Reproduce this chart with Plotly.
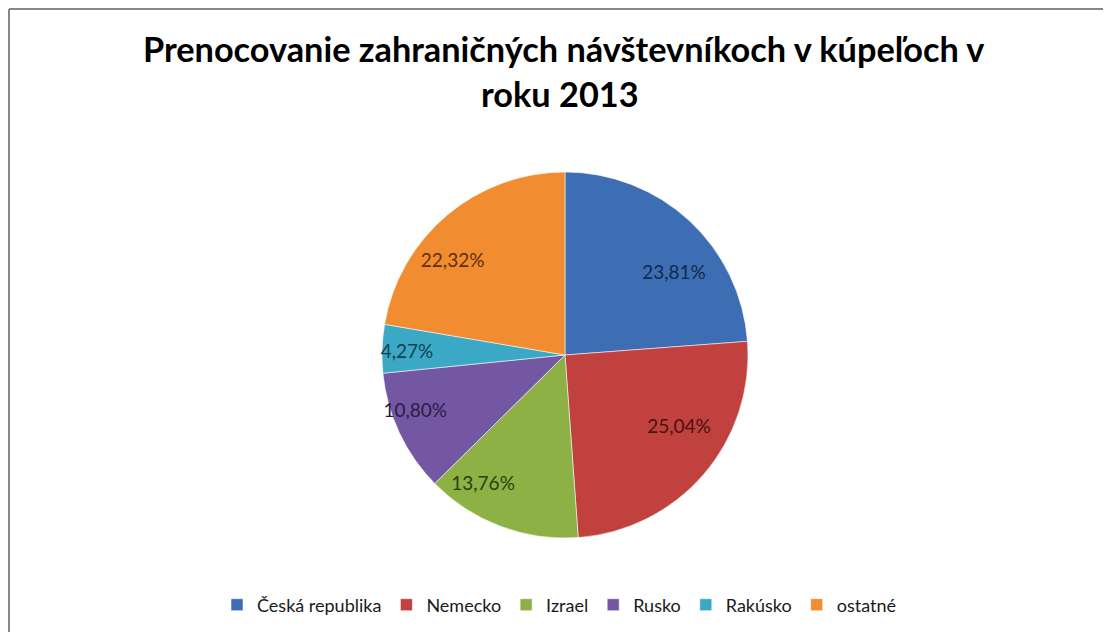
import plotly.graph_objects as go

categories = ["Česká republika", "Nemecko", "Izrael", "Rusko", "Rakúsko", "ostatné"]
shares = [23.81, 25.04, 13.76, 10.80, 4.27, 22.32]

# styling
slice_colors = ["#3d6eb3", "#c0413d", "#8db145", "#7457a3", "#3ba9c6", "#f28c30"]
text_colors = ["#14284a", "#4a1210", "#2e3d10", "#2a1c44", "#12404c", "#5a300a"]
label_pull = [0.05, 0.01, 0.26, 0.24, 0.26, 0.16]

W, H = 1111, 632
OFF = 8  # page body margin
cx, cy, R = 565 - OFF, 355 - OFF, 183
RL = 100  # radius of invisible label ring
RL_dom = RL * (1 + max(label_pull))


def dom(r):
    return dict(x=[(cx - r) / W, (cx + r) / W], y=[1 - (cy + r) / H, 1 - (cy - r) / H])


fig = go.Figure()
fig.add_trace(go.Pie(
    labels=categories,
    values=shares,
    sort=False,
    direction="clockwise",
    rotation=0,
    marker=dict(colors=slice_colors, line=dict(color="rgba(255,255,255,0.55)", width=1)),
    textinfo="none",
    hoverinfo="label+percent",
    domain=dom(R),
))
fig.add_trace(go.Pie(
    labels=categories,
    values=shares,
    sort=False,
    direction="clockwise",
    rotation=0,
    showlegend=False,
    pull=label_pull,
    marker=dict(colors=["rgba(0,0,0,0)"] * len(shares), line=dict(width=0)),
    texttemplate="%{value:.2f}%",
    textposition="outside",
    textfont=dict(family="Lato, sans-serif", size=19, color=text_colors),
    hoverinfo="skip",
    domain=dom(RL_dom),
))

fig.update_layout(
    width=W, height=H,
    margin=dict(l=0, r=0, t=0, b=0),
    paper_bgcolor="white",
    separators=", ",
    showlegend=True,
    legend=dict(
        orientation="h",
        x=(559 - OFF) / W, xanchor="center",
        y=1 - (605 - OFF) / H, yanchor="middle",
        font=dict(family="Lato, sans-serif", size=18, color="#1a1a1a"),
        itemwidth=30,
        traceorder="normal",
    ),
    annotations=[
        dict(text="<b>Prenocovanie zahraničných návštevníkoch v kúpeľoch v</b>",
             x=(563 - OFF) / W, y=1 - (48 - OFF) / H, xref="paper", yref="paper",
             xanchor="center", yanchor="middle", showarrow=False,
             font=dict(family="Lato, sans-serif", size=34.3, color="black")),
        dict(text="<b>roku 2013</b>",
             x=(560 - OFF) / W, y=1 - (93 - OFF) / H, xref="paper", yref="paper",
             xanchor="center", yanchor="middle", showarrow=False,
             font=dict(family="Lato, sans-serif", size=34.3, color="black")),
    ],
    shapes=[
        dict(type="line", xref="paper", yref="paper", x0=1 / W, x1=1, y0=1 - 1 / H, y1=1 - 1 / H,
             line=dict(color="#868686", width=2)),
        dict(type="line", xref="paper", yref="paper", x0=1 / W, x1=1 / W, y0=0, y1=1 - 1 / H,
             line=dict(color="#868686", width=2)),
    ],
)

fig.write_html("out.html")
